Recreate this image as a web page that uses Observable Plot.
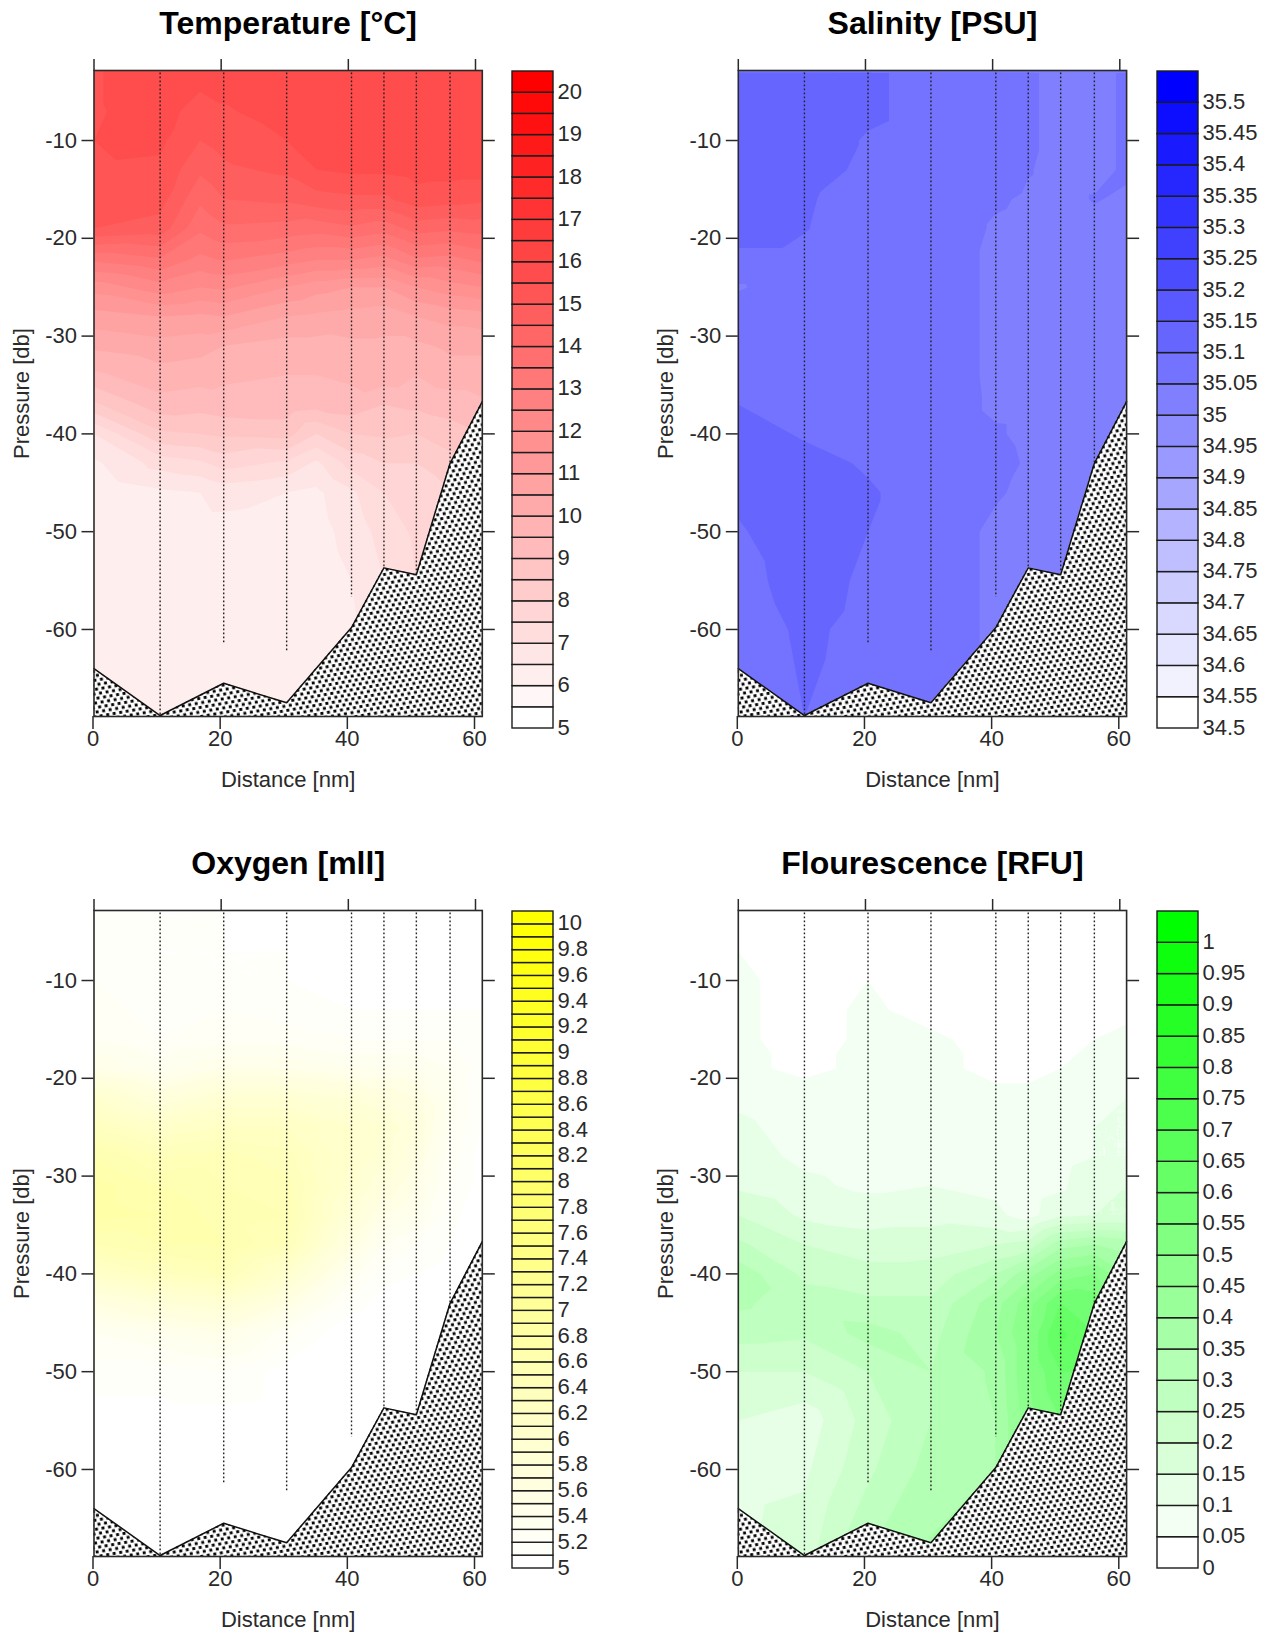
<!DOCTYPE html>
<html>
<head>
<meta charset="utf-8">
<script src="https://cdn.jsdelivr.net/npm/d3@7"></script>
<script src="https://cdn.jsdelivr.net/npm/@observablehq/plot@0.6"></script>
<style>
  html, body { margin: 0; padding: 0; background: #fff; }
  #page { position: relative; width: 1271px; height: 1636px; overflow: hidden; background: #fff; }
  #page > svg, #page > div { position: absolute; }
</style>
</head>
<body>
<div id="page"></div>
<script>
// Station positions along the transect [nm] and sampled pressures [db]
const stations = [0, 10.4, 20.4, 30.3, 40.5, 45.6, 50.7, 56, 61.07];
const tempStations = [0, 10.4, 16.7, 20.4, 30.3, 35, 40.5, 45.6, 50.7, 56, 61.07];
const depths = [-3, -7, -10, -13, -16, -19, -22, -25, -28, -31, -34, -37, -40, -43, -46, -50, -55, -60, -69];

// Casts drawn as dotted lines: position and deepest pressure
const castX = [10.4, 20.4, 30.3, 40.5, 45.6, 50.7, 56];
const castEnd = [-68.7, -61.5, -62.2, -56.7, -53.7, -54.4, -43];

// Sea floor
const floorDepth = [-64, -68.8, -65.5, -67.5, -59.8, -53.7, -54.4, -43, -36.7];

// One row per station, one value per pressure in `depths`
const temperature = [
  [15.45,15.45,15.5,15.45,15.3,15.0,13.2,11.7,10.8,10.1,9.4,8.4,7.0,6.4,6.1,6.1,6.1,6.1,6.1],
  [15.8,15.7,15.6,15.4,15.2,14.8,13.5,12.3,11.0,10.3,9.8,9.3,8.4,7.2,6.4,6.2,6.2,6.2,6.1],
  [15.7,15.3,15.0,14.6,14.1,13.6,12.9,12.0,10.9,10.2,9.7,9.2,8.5,7.4,6.5,6.3,6.2,6.2,6.1],
  [15.7,15.45,15.2,14.9,14.5,13.9,13.1,12.1,11.0,10.0,9.6,9.3,8.6,7.7,6.7,6.3,6.2,6.2,6.1],
  [15.9,15.7,15.5,15.1,14.6,13.8,12.8,11.5,10.5,9.8,9.5,9.3,8.7,7.4,6.5,6.2,6.2,6.1,6.1],
  [15.9,15.9,15.7,15.5,14.8,13.7,12.6,11.2,10.4,9.8,9.5,9.2,8.0,6.9,6.4,6.3,6.2,6.1,6.1],
  [15.9,15.9,15.9,15.6,14.9,13.9,12.6,11.0,10.3,9.9,9.6,9.3,8.5,7.7,6.9,6.7,6.5,6.4,6.4],
  [15.9,15.9,15.9,15.6,14.9,13.7,12.4,11.0,10.2,9.9,9.8,9.0,8.6,8.0,7.5,7.2,7.0,7.0,7.0],
  [15.9,15.9,15.9,15.7,15.3,14.2,13.0,11.5,10.5,9.9,9.5,9.1,8.5,8.0,7.6,7.6,7.5,7.5,7.5],
  [15.9,15.9,15.9,15.7,15.2,14.1,12.9,11.8,10.7,10.1,9.8,9.2,8.8,8.3,8.0,7.8,7.8,7.8,7.8],
  [15.8,15.9,15.9,15.7,15.1,14.2,13.2,12.0,10.8,10.1,9.8,9.4,9.0,8.5,8.0,8.0,8.0,8.0,8.0]
];
const salinity = [
  [35.12,35.12,35.12,35.12,35.12,35.12,35.09,35.045,35.08,35.08,35.085,35.10,35.12,35.12,35.11,35.095,35.08,35.07,35.06],
  [35.13,35.13,35.13,35.13,35.105,35.102,35.09,35.08,35.08,35.08,35.08,35.08,35.095,35.115,35.13,35.13,35.125,35.11,35.10],
  [35.11,35.11,35.095,35.085,35.08,35.08,35.08,35.08,35.08,35.08,35.08,35.08,35.085,35.095,35.105,35.10,35.09,35.085,35.08],
  [35.08,35.08,35.08,35.08,35.08,35.08,35.08,35.08,35.08,35.08,35.08,35.08,35.08,35.08,35.08,35.08,35.08,35.08,35.08],
  [35.07,35.07,35.07,35.07,35.055,35.045,35.04,35.04,35.04,35.04,35.04,35.042,35.055,35.065,35.055,35.04,35.04,35.04,35.04],
  [35.055,35.055,35.055,35.052,35.045,35.04,35.04,35.04,35.04,35.04,35.04,35.04,35.04,35.045,35.04,35.04,35.04,35.04,35.04],
  [35.04,35.04,35.04,35.04,35.04,35.04,35.04,35.04,35.04,35.04,35.04,35.04,35.04,35.04,35.04,35.04,35.04,35.04,35.04],
  [35.04,35.04,35.04,35.04,35.052,35.04,35.04,35.04,35.04,35.04,35.04,35.04,35.04,35.04,35.04,35.04,35.04,35.04,35.04],
  [35.055,35.055,35.055,35.055,35.045,35.04,35.045,35.04,35.04,35.04,35.04,35.04,35.04,35.04,35.04,35.04,35.04,35.04,35.04]
];
const oxygen = [
  [5.15,5.15,5.2,5.25,5.3,5.5,6.0,6.3,6.6,6.75,6.75,6.5,6.1,5.6,5.3,5.15,5.05,5.0,5.0],
  [5.1,5.1,5.1,5.15,5.2,5.35,5.7,6.1,6.4,6.6,6.7,6.6,6.3,5.8,5.4,5.15,5.05,5.0,5.0],
  [5.1,5.1,5.1,5.2,5.25,5.5,5.9,6.2,6.45,6.5,6.55,6.6,6.4,5.9,5.5,5.2,5.05,5.05,5.0],
  [5.05,5.1,5.1,5.15,5.25,5.5,5.9,6.2,6.35,6.45,6.5,6.4,6.0,5.6,5.25,5.05,5.03,5.0,5.0],
  [5.05,5.05,5.05,5.1,5.2,5.4,5.8,6.0,6.0,5.95,5.8,5.6,5.35,5.15,5.0,5.0,5.0,5.0,5.0],
  [5.05,5.05,5.05,5.1,5.2,5.4,5.7,5.9,5.85,5.7,5.5,5.3,5.15,5.05,5.0,5.0,5.0,5.0,5.0],
  [5.05,5.05,5.05,5.1,5.2,5.4,5.6,5.7,5.6,5.5,5.4,5.2,5.1,5.0,5.0,5.0,5.0,5.0,5.0],
  [5.0,5.05,5.05,5.1,5.2,5.3,5.35,5.3,5.25,5.2,5.15,5.1,5.05,5.0,5.0,5.0,5.0,5.0,5.0],
  [5.0,5.0,5.05,5.1,5.2,5.15,5.1,5.1,5.05,5.05,5.0,5.0,5.0,5.0,5.0,5.0,5.0,5.0,5.0]
];
const fluorescence = [
  [0.02,0.05,0.06,0.06,0.06,0.06,0.09,0.11,0.12,0.14,0.20,0.26,0.33,0.31,0.27,0.20,0.15,0.13,0.14],
  [0,0.02,0.03,0.03,0.03,0.04,0.07,0.08,0.09,0.11,0.14,0.20,0.24,0.27,0.26,0.20,0.12,0.14,0.18],
  [0,0.02,0.05,0.06,0.06,0.06,0.06,0.07,0.08,0.09,0.13,0.17,0.22,0.26,0.32,0.25,0.22,0.24,0.30],
  [0,0,0.02,0.03,0.06,0.06,0.06,0.07,0.07,0.10,0.13,0.18,0.22,0.26,0.28,0.30,0.30,0.32,0.36],
  [0,0,0,0.01,0.03,0.04,0.06,0.07,0.08,0.09,0.11,0.20,0.30,0.38,0.40,0.36,0.35,0.35,0.35],
  [0,0,0,0,0.02,0.04,0.06,0.07,0.07,0.07,0.08,0.22,0.38,0.48,0.50,0.50,0.48,0.40,0.40],
  [0,0,0,0,0.03,0.05,0.07,0.08,0.08,0.09,0.14,0.33,0.47,0.60,0.66,0.60,0.55,0.50,0.50],
  [0,0,0,0.02,0.05,0.07,0.09,0.10,0.10,0.14,0.15,0.35,0.50,0.58,0.60,0.60,0.60,0.60,0.60],
  [0,0,0.01,0.04,0.06,0.07,0.10,0.10,0.10,0.15,0.15,0.33,0.40,0.45,0.45,0.45,0.45,0.45,0.45]
];

// Colour-bar tick labels
const tempTicks = [5,6,7,8,9,10,11,12,13,14,15,16,17,18,19,20];
const salTicks = [34.5,34.55,34.6,34.65,34.7,34.75,34.8,34.85,34.9,34.95,35,35.05,35.1,35.15,35.2,35.25,35.3,35.35,35.4,35.45,35.5];
const oxyTicks = [5,5.2,5.4,5.6,5.8,6,6.2,6.4,6.6,6.8,7,7.2,7.4,7.6,7.8,8,8.2,8.4,8.6,8.8,9,9.2,9.4,9.6,9.8,10];
const fluTicks = [0,0.05,0.1,0.15,0.2,0.25,0.3,0.35,0.4,0.45,0.5,0.55,0.6,0.65,0.7,0.75,0.8,0.85,0.9,0.95,1];

const xTicks = [0, 20, 40, 60];
const yTicks = [-10, -20, -30, -40, -50, -60];

const FONT = "'Liberation Sans', Arial, sans-serif";
const INK = "#2a2a2a";

const bands = (lo, step, n) => d3.range(n).map(i => +(lo + i * step).toFixed(3));

const panels = [
  {title: "Temperature [°C]", columns: tempStations, values: temperature, ticks: tempTicks, lo: 5, step: 0.5, n: 31, hue: "rgb(255,0,0)", left: 0, top: 0, barLeft: 500, marginLeft: 93.5},
  {title: "Salinity [PSU]", columns: stations, values: salinity, ticks: salTicks, lo: 34.5, step: 0.05, n: 21, hue: "rgb(0,0,255)", left: 644, top: 0, barLeft: 1144.7, marginLeft: 93.8},
  {title: "Oxygen [mll]", columns: stations, values: oxygen, ticks: oxyTicks, lo: 5, step: 0.1, n: 51, hue: "rgb(255,255,0)", left: 0, top: 840, barLeft: 500, marginLeft: 93.5},
  {title: "Flourescence [RFU]", columns: stations, values: fluorescence, ticks: fluTicks, lo: 0, step: 0.05, n: 21, hue: "rgb(0,255,0)", left: 644, top: 840, barLeft: 1144.7, marginLeft: 93.8}
];

const page = document.getElementById("page");

panels.forEach((p, k) => {
  const levels = bands(p.lo, p.step, p.n);
  const color = {type: "linear", domain: [levels[0], levels[levels.length - 1]], range: ["rgb(255,255,255)", p.hue]};
  const samples = p.columns.flatMap((x, i) => depths.map((y, j) => ({x, y, v: p.values[i][j]})));
  const floor = stations.map((x, i) => ({x, y: floorDepth[i]}));
  const casts = castX.map((x, i) => ({x, y: castEnd[i]}));
  const patternId = "seabed" + k;

  const chart = Plot.plot({
    width: 500, height: 800,
    marginLeft: p.marginLeft, marginRight: 500 - p.marginLeft - 388.3, marginTop: 70, marginBottom: 84,
    style: {fontFamily: FONT, fontSize: "22px", color: INK, background: "transparent"},
    x: {domain: [0, 61.07], label: null},
    y: {domain: [-68.9, -2.84], label: null},
    color,
    marks: [
      () => {
        const defs = d3.create("svg:defs");
        const pat = defs.append("pattern").attr("id", patternId).attr("patternUnits", "userSpaceOnUse")
          .attr("width", 6.6).attr("height", 9).attr("patternTransform", "rotate(-10)");
        pat.append("rect").attr("width", 6.6).attr("height", 9).attr("fill", "#fff");
        pat.append("rect").attr("x", 0.3).attr("y", 1).attr("width", 2.9).attr("height", 2.9).attr("fill", "#000");
        pat.append("rect").attr("x", 3.6).attr("y", 5.5).attr("width", 2.9).attr("height", 2.9).attr("fill", "#000");
        return defs.node();
      },
      Plot.contour(samples, {
        x: "x", y: "y", fill: "v", thresholds: levels,
        interpolate: "barycentric", pixelSize: 1, smooth: true
      }),
      Plot.ruleX(casts, {x: "x", y1: -3.1, y2: "y", stroke: "#222", strokeWidth: 1.4, strokeDasharray: "1.6 2.4"}),
      Plot.areaY(floor, {x: "x", y1: -68.9, y2: "y", fill: `url(#${patternId})`}),
      Plot.lineY(floor, {x: "x", y: "y", stroke: "#111", strokeWidth: 1.5}),
      Plot.frame({stroke: INK, strokeWidth: 1.6}),
      Plot.axisX({anchor: "bottom", ticks: xTicks, tickSize: 13, tickPadding: 1, tickFormat: d => String(d),
        stroke: INK, strokeWidth: 1.5, label: "Distance [nm]", labelAnchor: "center", labelArrow: "none", labelOffset: 70, dx: -1}),
      Plot.axisX({anchor: "top", ticks: xTicks, tickSize: 12, tickFormat: () => "", stroke: INK, strokeWidth: 1.5, label: null}),
      Plot.axisY({anchor: "left", ticks: yTicks, tickSize: 12, tickPadding: 5, tickFormat: d => String(d),
        stroke: INK, strokeWidth: 1.5, label: "Pressure [db]", labelAnchor: "center", labelArrow: "none", labelOffset: 81}),
      Plot.axisY({anchor: "right", ticks: yTicks, tickSize: 12, tickFormat: () => "", stroke: INK, strokeWidth: 1.5, label: null}),
      Plot.text([p.title], {text: d => d, frameAnchor: "top", dy: -46.5, lineAnchor: "middle",
        fontSize: 32, fontWeight: "bold", fill: "#000"})
    ]
  });
  chart.style.left = p.left + "px";
  chart.style.top = p.top + "px";
  page.appendChild(chart);

  const bar = Plot.plot({
    width: 126, height: 800,
    marginLeft: 12, marginRight: 73, marginTop: 71, marginBottom: 72,
    style: {fontFamily: FONT, fontSize: "22px", color: INK, background: "transparent"},
    x: {axis: null, domain: [0, 1]},
    y: {domain: [p.lo, p.lo + p.n * p.step], label: null, axis: null},
    color,
    marks: [
      Plot.rect(levels, {x1: 0, x2: 1, y1: d => d, y2: d => d + p.step, fill: d => d, stroke: "#1c1c1c", strokeWidth: 1.4}),
      Plot.axisY({anchor: "right", ticks: p.ticks, tickSize: 0, tickPadding: 4, dy: -1,
        tickFormat: d => String(d), label: null})
    ]
  });
  bar.style.left = p.barLeft + "px";
  bar.style.top = p.top + "px";
  page.appendChild(bar);
});
</script>
</body>
</html>
